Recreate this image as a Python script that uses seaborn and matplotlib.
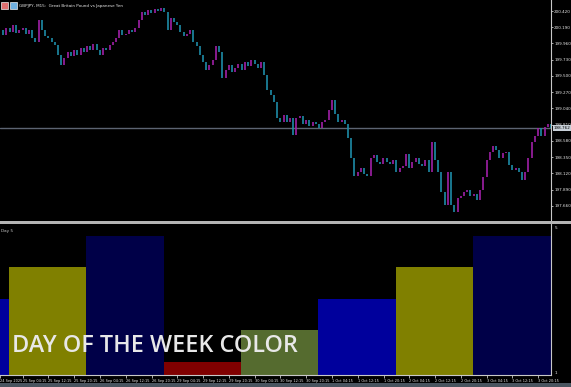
import numpy as np
import pandas as pd
import matplotlib
matplotlib.use("Agg")
import matplotlib.pyplot as plt
import matplotlib.transforms as mtransforms
from matplotlib.patches import Rectangle
import seaborn as sns

# ---------------- data ----------------
# hourly closes of GBPJPY
close = [
    200.151, 200.080, 200.179, 200.123, 200.222, 200.109, 200.151, 200.179, 200.094, 200.151,
    200.038, 199.981, 200.293, 200.151, 200.066, 200.038, 199.981, 199.939, 199.797, 199.656,
    199.755, 199.840, 199.783, 199.868, 199.797, 199.896, 199.840, 199.925, 199.868, 199.953,
    199.868, 199.797, 199.896, 199.868, 199.939, 199.981, 200.038, 200.151, 200.080, 200.094,
    200.151, 200.123, 200.179, 200.293, 200.406, 200.363, 200.434, 200.392, 200.448, 200.420,
    200.462, 200.406, 200.151, 200.321, 200.264, 200.222, 200.123, 200.066, 200.094, 200.151,
    199.981, 199.925, 199.797, 199.698, 199.585, 199.656, 199.726, 199.925, 199.840, 199.472,
    199.585, 199.656, 199.557, 199.613, 199.670, 199.585, 199.698, 199.642, 199.726, 199.670,
    199.613, 199.698, 199.514, 199.302, 199.231, 199.132, 198.906, 198.849, 198.948, 198.849,
    198.906, 198.665, 198.906, 198.934, 198.821, 198.877, 198.792, 198.849, 198.821, 198.764,
    198.849, 198.877, 199.019, 199.160, 198.962, 198.849, 198.877, 198.821, 198.622, 198.339,
    198.085, 198.141, 198.198, 198.113, 198.085, 198.339, 198.382, 198.283, 198.254, 198.339,
    198.283, 198.254, 198.311, 198.141, 198.198, 198.226, 198.396, 198.198, 198.283, 198.339,
    198.254, 198.226, 198.311, 198.141, 198.566, 198.311, 198.141, 197.858, 197.674, 198.141,
    197.674, 197.575, 197.773, 197.801, 197.858, 197.886, 197.801, 197.830, 197.745, 197.886,
    198.070, 198.311, 198.424, 198.509, 198.453, 198.339, 198.410, 198.424, 198.240, 198.169,
    198.198, 198.141, 198.028, 198.141, 198.339, 198.566, 198.651, 198.764, 198.651, 198.778,
    198.821, 198.764,
]
current_price = 198.762
price_ticks = [200.420, 200.190, 199.960, 199.730, 199.500, 199.270, 199.040,
               198.810, 198.580, 198.350, 198.120, 197.890, 197.660]

day_names = ["Wed", "Thu", "Fri", "Mon", "Tue", "Wed", "Thu", "Fri"]
day_values = [3, 4, 5, 1, 2, 3, 4, 5]
day_starts = [0, 2.8, 26.8, 50.8, 74.8, 98.8, 122.8, 146.8]
day_ends = [2.8, 26.8, 50.8, 74.8, 98.8, 122.8, 146.8, 171.0]
day_colors = {"Mon": "#800000", "Tue": "#556B2F", "Wed": "#00009C",
              "Thu": "#808000", "Fri": "#000048"}

tick_days = ["25 Sep", "26 Sep", "29 Sep", "30 Sep", "1 Oct", "2 Oct", "3 Oct"]
tick_hours = ["04:15", "12:15", "20:15"]
tick_hour_offsets = [4.25, 12.25, 20.25]

# ---------------- style ----------------
sns.set_theme(style="dark", rc={
    "figure.facecolor": "black", "axes.facecolor": "black",
    "savefig.facecolor": "black", "axes.edgecolor": "#C8C8C8",
})
plt.rcParams["font.family"] = ["Liberation Sans Narrow", "DejaVu Sans"]

W, H = 571, 387
fig = plt.figure(figsize=(W / 100, H / 100), dpi=100)
ax1 = fig.add_axes([0, 1 - 221 / H, 551 / W, 221 / H])
ax2 = fig.add_axes([0, 1 - 375 / H, 551 / W, (375 - 224) / H])

label_col = "#E6E6E6"
small = 3.0

# ---------------- price panel ----------------
c = np.array(close)
o = np.concatenate([[c[0]], c[:-1]])
t = np.arange(len(c), dtype=float)
up = c >= o
ax1.vlines(t[up], o[up], c[up], color="#A020A8", lw=1.2)
ax1.vlines(t[~up], o[~up], c[~up], color="#1E8CA8", lw=1.2)
ax1.axhline(current_price, color="#5C6472", lw=1.0, zorder=0)
ax1.set_xlim(0, 171)
ax1.set_ylim(200.42 - 210 * 0.014154, 200.42 + 11 * 0.014154)
ax1.yaxis.tick_right()
ax1.set_yticks(price_ticks)
ax1.set_yticklabels([f"{p:.3f}" for p in price_ticks])
ax1.tick_params(axis="y", colors="#C8C8C8", labelcolor=label_col, labelsize=small,
                length=1.5, width=0.6, pad=0.8, right=True, left=False)
ax1.set_xticks([])
for s in ["left", "top", "bottom"]:
    ax1.spines[s].set_visible(False)
ax1.spines["right"].set_color("#C8C8C8")
ax1.spines["right"].set_linewidth(0.8)
ax1.grid(False)
trans = mtransforms.blended_transform_factory(ax1.transAxes, ax1.transData)
ax1.text(1.0045, current_price, f"{current_price:.3f}", transform=trans,
         fontsize=small, color="black", va="center", ha="left", zorder=10,
         bbox=dict(facecolor="#C8D0D8", edgecolor="none", pad=0.5), clip_on=False)

# title with icons
fig.patches.append(Rectangle((1 / W, 1 - 9 / H), 7 / W, 7 / H, transform=fig.transFigure,
                             facecolor="#E07070", edgecolor="#F0F0F0", lw=0.5))
fig.patches.append(Rectangle((10 / W, 1 - 9 / H), 7 / W, 7 / H, transform=fig.transFigure,
                             facecolor="#70B0E0", edgecolor="#F0F0F0", lw=0.5))
fig.text(19 / W, 1 - 5.5 / H, "GBPJPY, M15:  Great Britain Pound vs Japanese Yen",
         fontsize=small, color=label_col, va="center", ha="left")

# ---------------- day-of-week panel ----------------
df = pd.DataFrame({
    "mid": [(a + b) / 2 for a, b in zip(day_starts, day_ends)],
    "value": day_values,
    "day": day_names,
})
edges = day_starts + [day_ends[-1]]
sns.histplot(data=df, x="mid", weights="value", hue="day", bins=edges,
             palette=day_colors, alpha=1, linewidth=0, legend=False,
             multiple="layer", ax=ax2)
ax2.set_xlim(0, 171)
ax2.set_ylim(0.587, 5.38)
ax2.set_xlabel("")
ax2.set_ylabel("")
ax2.set_yticks([])
ax2.grid(False)
for s in ["left", "top"]:
    ax2.spines[s].set_visible(False)
for s in ["right", "bottom"]:
    ax2.spines[s].set_color("#C8C8C8")
    ax2.spines[s].set_linewidth(0.8)

xt, xl = [0.0], ["24 Sep 2025"]
for d, start in zip(tick_days, day_starts[1:]):
    for hh, off in zip(tick_hours, tick_hour_offsets):
        xt.append(start + off)
        xl.append(f"{d} {hh}")
ax2.set_xticks(xt)
ax2.set_xticklabels(xl, ha="left")
ax2.tick_params(axis="x", colors="#C8C8C8", labelcolor=label_col, labelsize=2.5,
                length=2.5, width=0.6, pad=0.5, bottom=True)
ax2.text(1.006, 0.985, "5", transform=ax2.transAxes, fontsize=small, color=label_col,
         va="top", ha="left")
ax2.text(1.006, 0.0, "1", transform=ax2.transAxes, fontsize=small, color=label_col,
         va="bottom", ha="left")
ax2.text(0.002, 0.97, "Day 5", transform=ax2.transAxes, fontsize=small, color="#C8C8C8",
         va="top", ha="left")

# panel separator and bottom strip
fig.patches.append(Rectangle((0, 1 - 224 / H), 1, 2.5 / H, transform=fig.transFigure,
                             facecolor="#B4B4B4", edgecolor="none"))
fig.patches.append(Rectangle((0, 0), 1, 4 / H, transform=fig.transFigure,
                             facecolor="#4A5560", edgecolor="none"))

fig.text(12 / W, 1 - 346 / H, "DAY OF THE WEEK COLOR", family=["Open Sans", "DejaVu Sans"],
         fontweight="semibold", fontsize=16.8, color="#E8E8E8", va="center", ha="left")

fig.savefig("out.png", dpi=100, facecolor="black")
